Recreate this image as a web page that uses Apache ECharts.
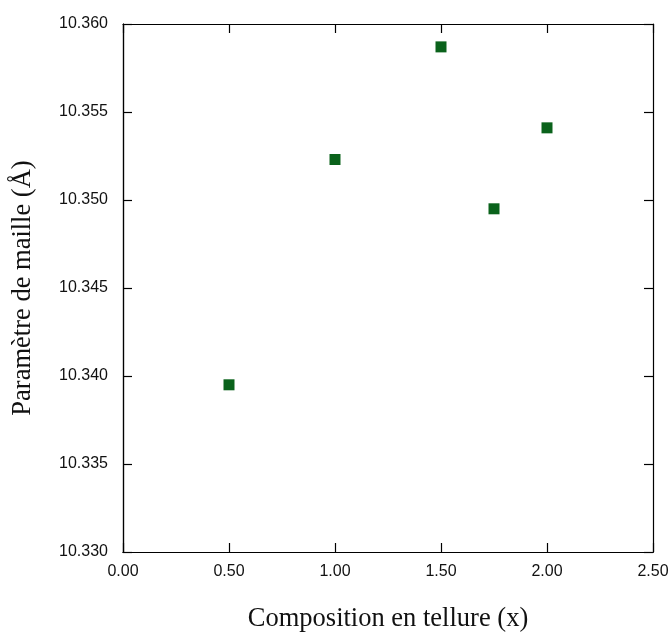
<!DOCTYPE html>
<html><head><meta charset="utf-8">
<script src="https://cdn.jsdelivr.net/npm/echarts@6/dist/echarts.min.js"></script>
<style>html,body{margin:0;padding:0;background:#fff}#c{width:670px;height:633px}</style>
</head><body><div id="c"></div>
<script>
var xValues = [0.5, 1.0, 1.5, 1.75, 2.0];
var yValues = [10.3395, 10.3523, 10.3587, 10.3495, 10.3541];
var xTitle = 'Composition en tellure (x)';
var yTitle = 'Paramètre de maille (Å)';

var pts = xValues.map(function(x, i){ return [x, yValues[i]]; });
var chart = echarts.init(document.getElementById('c'), null, {renderer:'canvas'});
function axLine(){ return {show:true, onZero:false, lineStyle:{color:'#000', width:1.2}}; }
function tick(){ return {show:true, inside:true, length:9, lineStyle:{color:'#000', width:1.2}}; }
function lab(m, f){ return {margin:m, formatter:f, fontFamily:'Liberation Sans, Arial, sans-serif', fontSize:16, color:'#111'}; }
var titleStyle = {fontFamily:'Liberation Serif, Times New Roman, serif', fontSize:26.5, color:'#111'};
function xMirror(pos){ return {type:'value', min:0, max:2.5, interval:0.5, position:pos,
    axisLine:axLine(), axisTick:tick(), splitLine:{show:false}, axisLabel:{show:false}}; }
function yMirror(pos){ return {type:'value', min:10.330, max:10.360, interval:0.005, position:pos,
    axisLine:axLine(), axisTick:tick(), splitLine:{show:false}, axisLabel:{show:false}}; }
chart.setOption({
  animation:false,
  grid:{left:123, top:24, width:530, height:528, containLabel:false, outerBoundsMode:'none'},
  xAxis:[{
    type:'value', min:0, max:2.5, interval:0.5, position:'bottom',
    axisLine:axLine(), axisTick:{show:false}, splitLine:{show:false},
    axisLabel:lab(12, function(v){return v.toFixed(2);}),
    name:xTitle, nameLocation:'middle', nameGap:54, nameTextStyle:titleStyle
  }, xMirror('top'), xMirror('bottom')],
  yAxis:[{
    type:'value', min:10.330, max:10.360, interval:0.005, position:'left',
    axisLine:axLine(), axisTick:{show:false}, splitLine:{show:false},
    axisLabel:lab(15, function(v){return v.toFixed(3);}),
    name:yTitle, nameLocation:'middle', nameGap:86, nameTextStyle:titleStyle
  }, yMirror('right'), yMirror('left')],
  series:[{
    type:'scatter', xAxisIndex:0, yAxisIndex:0, data:pts,
    symbol:'rect', symbolSize:11, itemStyle:{color:'#0a621b', opacity:1}
  }]
});
</script></body></html>
